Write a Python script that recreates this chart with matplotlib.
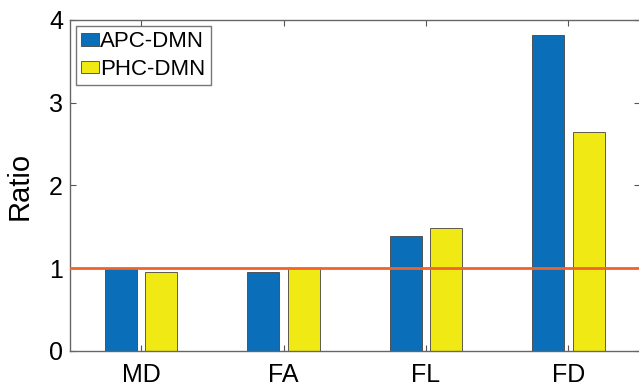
import numpy as np
import matplotlib.pyplot as plt

plt.rcParams['font.family'] = ['Liberation Sans', 'DejaVu Sans']

categories = ['MD', 'FA', 'FL', 'FD']
apc_dmn = [0.99, 0.955, 1.39, 3.82]
phc_dmn = [0.955, 1.0, 1.49, 2.65]

x = np.arange(1, len(categories) + 1)
w = 0.225
off = 0.142

fig = plt.figure(figsize=(6.39, 3.88), dpi=100)
ax = fig.add_axes([0.1095, 0.0954, 0.8915, 0.8531])

ax.bar(x - off, apc_dmn, w, color='#0B6EB8', edgecolor='#444444', linewidth=0.6, label='APC-DMN', zorder=2)
ax.bar(x + off, phc_dmn, w, color='#F1E914', edgecolor='#444444', linewidth=0.6, label='PHC-DMN', zorder=2)
ax.axhline(1, color='#F0642A', linewidth=2, zorder=3)

ax.set_xlim(0.5, 4.5)
ax.set_ylim(0, 4)
ax.set_xticks(x)
ax.set_xticklabels(categories)
ax.set_yticks([0, 1, 2, 3, 4])
ax.set_ylabel('Ratio', fontsize=21, labelpad=11)
ax.tick_params(direction='in', length=4, width=0.8, color='#555555', labelsize=18,
               top=True, right=True)
ax.tick_params(axis='x', pad=9)
ax.tick_params(axis='y', pad=5)
for s in ax.spines.values():
    s.set_color('#666666')
    s.set_linewidth(1.0)

leg = ax.legend(loc='upper left', fontsize=16, frameon=True, fancybox=False,
                handlelength=0.8, handleheight=0.5, handletextpad=0.05,
                borderpad=0.25, labelspacing=0.3, borderaxespad=0.25)
leg.get_frame().set_edgecolor('#555555')
leg.get_frame().set_linewidth(1.0)

plt.savefig('out.png', dpi=100)
